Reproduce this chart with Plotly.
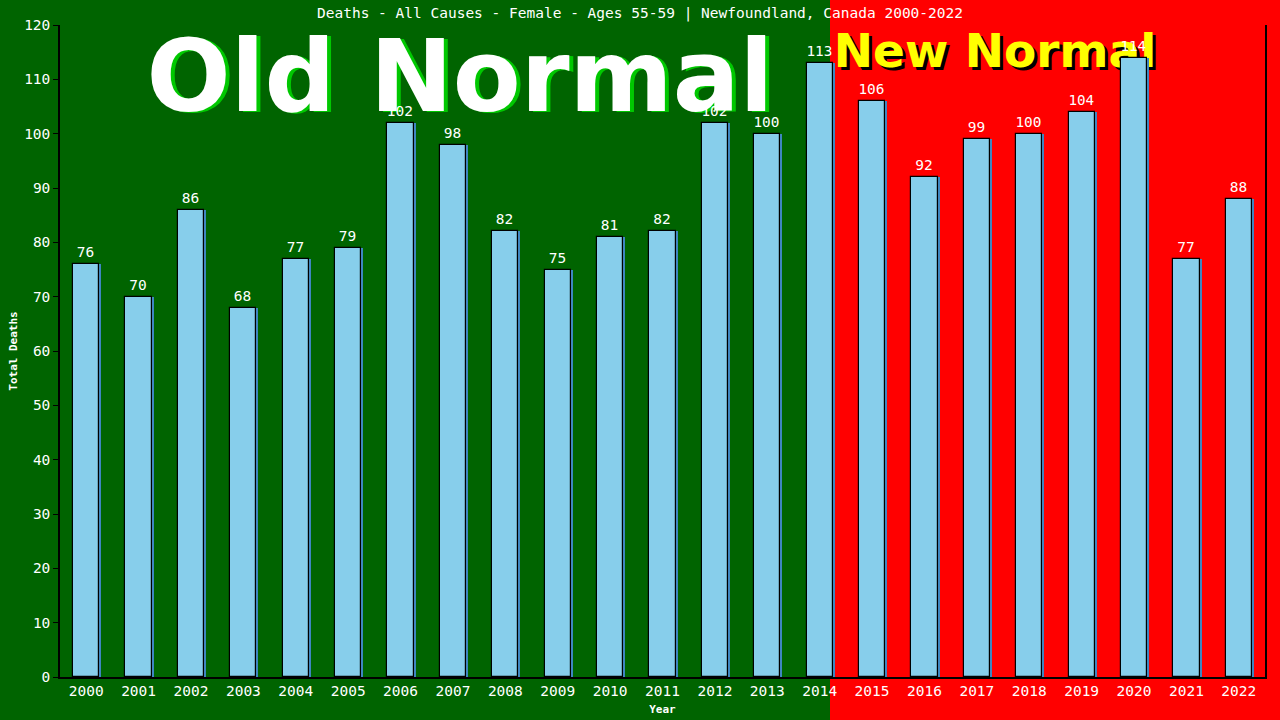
import plotly.graph_objects as go

years = list(range(2000, 2023))
deaths = [76, 70, 86, 68, 77, 79, 102, 98, 82, 75, 81, 82, 102, 100, 113,
          106, 92, 99, 100, 104, 114, 77, 88]
y_ticks = list(range(0, 121, 10))
title_text = "Deaths - All Causes - Female - Ages 55-59 | Newfoundland, Canada 2000-2022"

MONO = "DejaVu Sans Mono"
W, H = 1280, 720
ML, MR, MT, MB = 60, 15, 25, 43
PW = W - ML - MR
PH = H - MT - MB
split_px = 830
split = (split_px - ML) / PW
unit_px = PW / 23.0
shadow_shift = 2.0 / unit_px

fig = go.Figure()

# shadow bars
fig.add_trace(go.Bar(
    x=years, y=deaths, width=0.5, offset=-0.25 + shadow_shift,
    marker=dict(color="#3f86c0", line=dict(width=0)),
    hoverinfo="skip", showlegend=False,
))
# main bars
fig.add_trace(go.Bar(
    x=years, y=deaths, width=0.5, offset=-0.25,
    marker=dict(color="#87CEEB", line=dict(color="black", width=1.2)),
    text=[str(v) for v in deaths], textposition="outside",
    textfont=dict(family=MONO, size=14.5, color="white"),
    cliponaxis=False, showlegend=False,
))

def px_to_px(xp):
    return (xp - ML) / PW

def py_to_py(yp):
    return (H - MB - yp) / PH

shapes = [
    dict(type="rect", xref="paper", yref="paper", x0=-ML / PW, x1=split,
         y0=-MB / PH, y1=(PH + MT) / PH, fillcolor="#006400", line=dict(width=0),
         layer="below"),
    dict(type="rect", xref="paper", yref="paper", x0=split, x1=(PW + MR) / PW,
         y0=-MB / PH, y1=(PH + MT) / PH, fillcolor="#ff0000", line=dict(width=0),
         layer="below"),
]

def text_shape(text, cx, cy, size, color, dx=0, dy=0):
    x = px_to_px(cx + dx)
    y = py_to_py(cy + dy)
    return dict(type="rect", xref="paper", yref="paper",
                x0=x - 0.01, x1=x + 0.01, y0=y - 0.01, y1=y + 0.01,
                line=dict(width=0), fillcolor="rgba(0,0,0,0)", layer="below",
                label=dict(text=text, textposition="middle center",
                           font=dict(family="DejaVu Sans", size=size, color=color,
                                     weight="bold")))

shapes.append(text_shape("Old Normal", 460, 69, 99, "#00c800", dx=4, dy=1))
shapes.append(text_shape("Old Normal", 460, 69, 99, "white"))
shapes.append(text_shape("New Normal", 995, 47, 47, "black", dx=3, dy=3))
shapes.append(text_shape("New Normal", 995, 47, 47, "#ffff00"))

fig.update_layout(
    width=W, height=H,
    margin=dict(l=ML, r=MR, t=MT, b=MB, autoexpand=False),
    paper_bgcolor="#ff0000", plot_bgcolor="rgba(0,0,0,0)",
    barmode="overlay", bargap=0,
    shapes=shapes,
    title=dict(text=title_text, x=0.5, xref="container", y=1 - 13 / H,
               yref="container", xanchor="center", yanchor="middle",
               font=dict(family=MONO, size=14.5, color="white")),
    xaxis=dict(range=[1999.5, 2022.5], tickvals=years, ticktext=[str(y) for y in years],
               showgrid=False, zeroline=False, showline=True, linecolor="black",
               linewidth=1.5, ticks="", automargin=False,
               tickfont=dict(family=MONO, size=14.5, color="white"),
               title=dict(text="Year", standoff=7,
                          font=dict(family=MONO, size=11, color="white", weight="bold"))),
    yaxis=dict(range=[0, 120], tickvals=y_ticks, showgrid=False, zeroline=False,
               showline=True, linecolor="black", linewidth=1.5, mirror=True,
               ticks="outside", ticklen=5, tickcolor="black", automargin=False,
               tickfont=dict(family=MONO, size=14.5, color="white"),
               title=dict(text="Total Deaths", standoff=4,
                          font=dict(family=MONO, size=11, color="white", weight="bold"))),
)

fig.write_html("out.html", config={"displayModeBar": False},
               post_script="document.body.style.margin='0px';")
